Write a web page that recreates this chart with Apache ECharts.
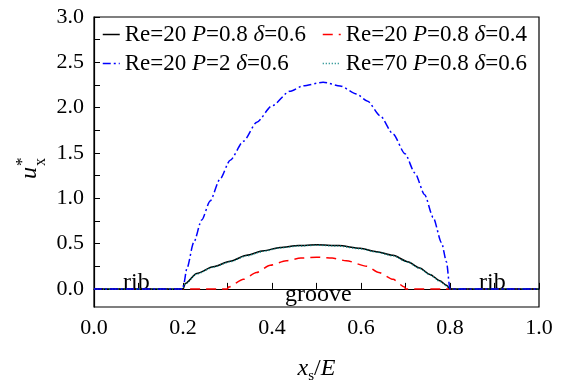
<!DOCTYPE html>
<html>
<head>
<meta charset="utf-8">
<script src="https://cdn.jsdelivr.net/npm/echarts@6/dist/echarts.min.js"></script>
<style>html,body{margin:0;padding:0;background:#fff;}#c{width:563px;height:389px;}</style>
</head>
<body>
<div id="c"></div>
<script>
// ---- data ----
var seriesNames = ['Re=20 P=0.8 δ=0.6', 'Re=20 P=0.8 δ=0.4', 'Re=20 P=2 δ=0.6', 'Re=70 P=0.8 δ=0.6'];

var xBlack = [0, 0.2, 0.205, 0.231, 0.268, 0.306, 0.343, 0.381, 0.418, 0.46, 0.5, 0.55, 0.598, 0.635, 0.672, 0.705, 0.732, 0.755, 0.777, 0.792, 0.8, 1.0];
var yBlack = [0, 0, 0.06, 0.17, 0.245, 0.305, 0.37, 0.42, 0.457, 0.478, 0.487, 0.478, 0.447, 0.41, 0.37, 0.30, 0.23, 0.16, 0.09, 0.04, 0, 0];

var xRed = [0, 0.3, 0.302, 0.336, 0.365, 0.396, 0.432, 0.465, 0.5, 0.535, 0.567, 0.613, 0.64, 0.672, 0.698, 0.7, 1.0];
var yRed = [0, 0, 0.02, 0.105, 0.18, 0.26, 0.31, 0.34, 0.35, 0.34, 0.31, 0.25, 0.18, 0.105, 0.02, 0, 0];

var xBlue = [0, 0.2, 0.201, 0.209, 0.224, 0.242, 0.261, 0.283, 0.306, 0.336, 0.366, 0.40, 0.44, 0.47, 0.515, 0.553, 0.59, 0.615, 0.643, 0.672, 0.699, 0.721, 0.743, 0.762, 0.781, 0.792, 0.8, 1.0];
var yBlue = [0, 0, 0.04, 0.23, 0.51, 0.76, 0.97, 1.21, 1.42, 1.63, 1.84, 2.02, 2.18, 2.24, 2.28, 2.24, 2.15, 2.07, 1.91, 1.71, 1.49, 1.28, 1.04, 0.79, 0.51, 0.30, 0, 0];

var xTeal = [0, 0.2, 0.205, 0.231, 0.268, 0.306, 0.343, 0.381, 0.418, 0.46, 0.5, 0.55, 0.598, 0.635, 0.672, 0.705, 0.732, 0.755, 0.777, 0.792, 0.8, 1.0];
var yTeal = [0, 0, 0.055, 0.165, 0.24, 0.30, 0.365, 0.415, 0.452, 0.473, 0.482, 0.473, 0.442, 0.405, 0.365, 0.295, 0.225, 0.155, 0.085, 0.035, 0, 0];

var yTickLabels = [0, 0.5, 1.0, 1.5, 2.0, 2.5, 3.0];
var yTickMarks = [0, 0.25, 0.5, 0.75, 1.0, 1.25, 1.5, 1.75, 2.0, 2.25, 2.5, 2.75, 3.0];

function pairs(xs, ys) { return xs.map(function (x, i) { return [x, ys[i]]; }); }

var FONT = 'Liberation Serif';
var chart = echarts.init(document.getElementById('c'));

function legendFmt(name) {
  return '{n|' + name.replace(/(P|δ)/g, '}{i|$1}{n|') + '}';
}
var legendRich = {
  n: { fontFamily: FONT, fontSize: 23, color: '#000' },
  i: { fontFamily: FONT, fontSize: 23, fontStyle: 'italic', color: '#000' }
};

function legendCfg(left, items, w) {
  return {
    orient: 'vertical', left: left, top: 23, padding: 0, itemGap: 6,
    itemWidth: w, itemHeight: 14, data: items, selectedMode: false,
    itemStyle: { opacity: 0 },
    lineStyle: { width: 1.5 },
    textStyle: { fontFamily: FONT, fontSize: 23, color: '#000', rich: legendRich },
    formatter: legendFmt
  };
}

function lineSeries(name, xs, ys, color, type, z) {
  return {
    name: name, type: 'line', data: pairs(xs, ys), symbol: 'none', showSymbol: false,
    smooth: 0.25, smoothMonotone: 'x', z: z,
    lineStyle: { color: color, width: 1.5, type: type }, itemStyle: { color: color }
  };
}

function txt(left, top, text, size, italic) {
  return { type: 'text', left: left, top: top,
    style: { text: text, fontFamily: FONT, fontSize: size, fontStyle: italic ? 'italic' : 'normal', fill: '#000' } };
}

var option = {
  animation: false,
  backgroundColor: '#fff',
  grid: { left: 94, right: 24, top: 17, bottom: 68, show: true, borderColor: '#000', borderWidth: 1.2, backgroundColor: 'transparent' },
  legend: [
    legendCfg(102, [seriesNames[0], seriesNames[2]], 17),
    legendCfg(322, [seriesNames[1], seriesNames[3]], 18)
  ],
  xAxis: {
    type: 'value', min: 0, max: 1.0, interval: 0.2,
    name: '{i|x}{s|s}{n|/}{i|E}', nameLocation: 'middle', nameGap: 46,
    nameTextStyle: {
      rich: {
        i: { fontFamily: FONT, fontSize: 24, fontStyle: 'italic', color: '#000' },
        n: { fontFamily: FONT, fontSize: 24, color: '#000' },
        s: { fontFamily: FONT, fontSize: 15, color: '#000', padding: [16, 0, 0, 0] }
      }
    },
    axisLine: { lineStyle: { color: '#000', width: 1.2 } },
    axisTick: { inside: true, length: 6, lineStyle: { color: '#000' } },
    minorTick: { show: true, splitNumber: 2, length: 6, lineStyle: { color: '#000' } },
    splitLine: { show: false },
    axisLabel: { fontFamily: FONT, fontSize: 22, color: '#000', margin: 10, formatter: function (v) { return v.toFixed(1); } }
  },
  yAxis: {
    type: 'value', min: -0.2, max: 3.0,
    axisLine: { show: true, lineStyle: { color: '#000', width: 1.2 } },
    axisTick: { show: true, inside: true, length: 6, customValues: yTickMarks, lineStyle: { color: '#000' } },
    splitLine: { show: false },
    axisLabel: { fontFamily: FONT, fontSize: 22, color: '#000', margin: 10, customValues: yTickLabels, formatter: function (v) { return v.toFixed(1); } }
  },
  series: [
    lineSeries(seriesNames[0], xBlack, yBlack, '#000000', 'solid', 3),
    lineSeries(seriesNames[1], xRed, yRed, '#ff0000', [10, 6], 2),
    lineSeries(seriesNames[2], xBlue, yBlue, '#0000ff', [8, 3, 2, 3], 5),
    lineSeries(seriesNames[3], xTeal, yTeal, '#008080', [1, 2], 4)
  ],
  graphic: [
    txt(123, 271, 'rib', 24, false),
    txt(479, 271, 'rib', 24, false),
    txt(285, 283, 'groove', 24, false),
    { type: 'group', x: 30, y: 173, rotation: Math.PI / 2, children: [
      { type: 'text', x: -6, y: -12, style: { text: 'u', fontFamily: FONT, fontSize: 24, fontStyle: 'italic', fill: '#000' } },
      { type: 'text', x: 7, y: -16, style: { text: '*', fontFamily: FONT, fontSize: 17, fill: '#000' } },
      { type: 'text', x: 7, y: 3, style: { text: 'x', fontFamily: FONT, fontSize: 16, fill: '#000' } }
    ] }
  ]
};
chart.setOption(option);
</script>
</body>
</html>
